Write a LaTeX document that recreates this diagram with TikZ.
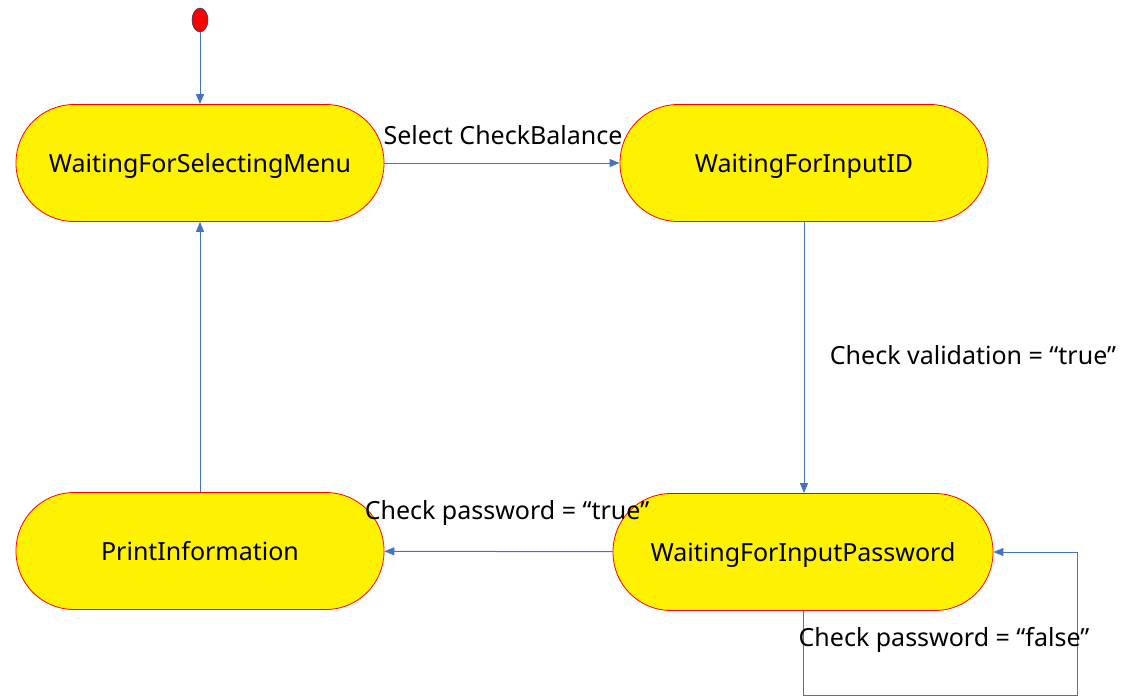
\documentclass[tikz,border=0pt]{standalone}
\usepackage{fontspec}
\setmainfont{Noto Sans}
\usetikzlibrary{arrows.meta,shapes.geometric}

\definecolor{flowblue}{RGB}{68,114,196}

\tikzset{
	state/.style={draw=red, fill=yellow, line width=0.8pt, rounded corners=58pt,
		minimum width=368pt, minimum height=117pt, inner sep=0pt, text depth=0pt,
		font=\fontsize{25}{29}\selectfont},
	flow/.style={draw=flowblue, line width=1pt, -{Triangle[length=10pt,width=8pt]}},
	guard/.style={inner sep=0pt, font=\fontsize{25}{29}\selectfont}
}

\begin{document}
\begin{tikzpicture}[x=1pt,y=-1pt]
	\useasboundingbox (0,0) rectangle (1128,697);
	
	\node[ellipse, draw=flowblue!60!black, fill=red, line width=0.6pt, minimum width=16pt, minimum height=24pt, inner sep=0pt] (start) at (200,20) {};
	
	\node[state] (menu) at (200,163) {WaitingForSelectingMenu};
	\node[state] (inputid) at (804,163) {WaitingForInputID};
	\node[state] (print) at (200,551) {PrintInformation};
	\node[state, minimum width=380pt] (inputpw) at (803,552) {WaitingForInputPassword};
	\coordinate (loop) at (1077,695);
	
	\draw[flow] (start) -- (menu);
	\draw[flow] (menu) -- (inputid);
	\draw[flow] (inputid.south -| 804,0) -- (inputpw.north -| 804,0);
	\draw[flow] (inputpw) -- (print);
	\draw[flow] (print) -- (menu);
	\draw[flow] (inputpw.south) |- (loop) |- (inputpw.east);
	
	\node[guard] (selectlbl) at (503,135) {Select CheckBalance};
	\node[guard] (validlbl) at (973,355) {Check validation = “true”};
	\node[guard] (truelbl) at (507,513) {Check password = “true”};
	\node[guard] (falselbl) at (944,640) {Check password = “false”};
\end{tikzpicture}
\end{document}
